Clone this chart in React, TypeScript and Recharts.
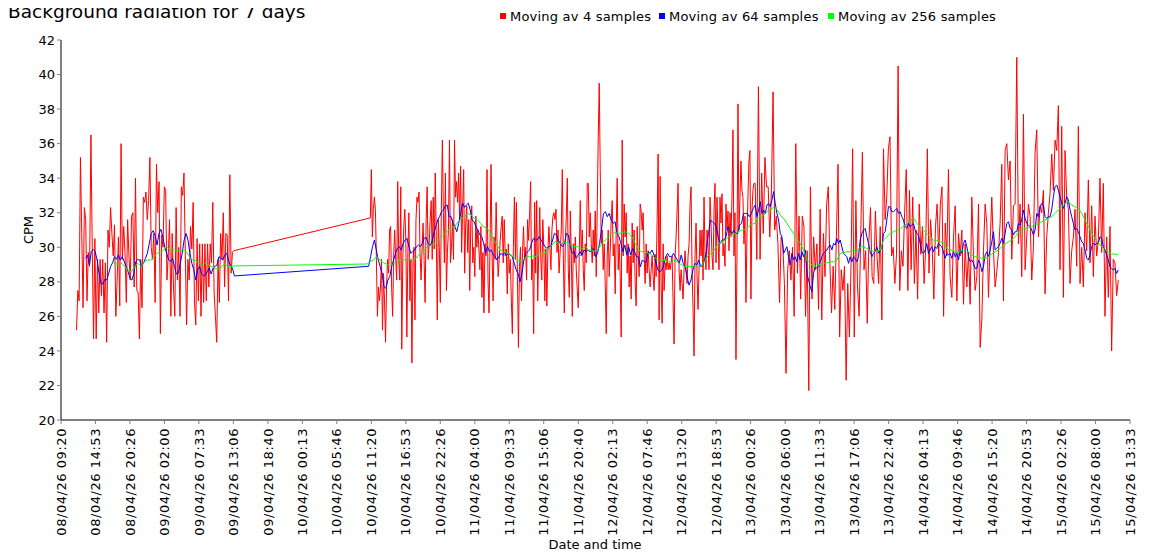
import React from 'react';
import { LineChart, Line, XAxis, YAxis } from 'recharts';

const TITLE = 'Background radiation for 7 days';
const SERIES_NAMES = ['Moving av 4 samples', 'Moving av 64 samples', 'Moving av 256 samples'];
const SERIES_COLORS = ['#ff0000', '#0000ff', '#00ff00'];
const X_LABEL = 'Date and time';
const Y_LABEL = 'CPM';
const Y_TICKS = [20, 22, 24, 26, 28, 30, 32, 34, 36, 38, 40, 42];
const X_TICK_LABELS = [
  '08/04/26 09:20', '08/04/26 14:53', '08/04/26 20:26', '09/04/26 02:00', '09/04/26 07:33',
  '09/04/26 13:06', '09/04/26 18:40', '10/04/26 00:13', '10/04/26 05:46', '10/04/26 11:20',
  '10/04/26 16:53', '10/04/26 22:26', '11/04/26 04:00', '11/04/26 09:33', '11/04/26 15:06',
  '11/04/26 20:40', '12/04/26 02:13', '12/04/26 07:46', '12/04/26 13:20', '12/04/26 18:53',
  '13/04/26 00:26', '13/04/26 06:00', '13/04/26 11:33', '13/04/26 17:06', '13/04/26 22:40',
  '14/04/26 04:13', '14/04/26 09:46', '14/04/26 15:20', '14/04/26 20:53', '15/04/26 02:26',
  '15/04/26 08:00', '15/04/26 13:33',
];

// Moving average over 4 samples (CPM), in time-ordered blocks
const RED_A = [25.2, 27.5, 26.9, 35.2, 30.8, 26.5, 32.3, 31.6, 26.9, 29.7, 28.9, 36.5, 30.0, 24.7, 30.5, 24.7, 29.3, 26.2, 29.3, 27.2, 29.3, 26.2, 29.1, 24.5, 31.0, 30.0, 32.3, 30.8, 29.5, 31.3, 26.0, 28.1, 30.6, 26.6, 36.0, 29.3, 31.2, 29.7, 26.8, 31.6, 29.5, 28.1, 31.8, 32.0, 27.7, 34.0, 27.5, 27.4, 24.7, 29.3, 26.5, 32.9, 32.6, 33.2, 31.6, 32.7, 35.2, 30.0, 29.3, 30.8, 26.8, 34.8, 32.0, 33.8, 25.0, 30.7, 30.0, 33.5, 33.3, 28.1, 29.5, 31.6, 26.0, 30.8, 27.7, 26.0, 32.3, 28.1, 30.0, 26.0, 33.5, 33.0, 34.3, 29.7, 25.5, 29.3, 28.1, 31.2, 29.9, 32.6, 26.9, 25.5, 30.5, 26.9, 30.2, 26.0, 30.2, 26.8, 30.2, 26.9, 30.2, 27.7, 30.2, 29.1, 32.6, 27.4, 26.0, 24.5, 29.3, 26.8, 30.8, 29.3, 32.0, 27.7, 30.8, 30.7, 26.9, 34.2, 28.5, 29.7, 29.8];
const RED_B1 = [31.7, 34.5, 30.6, 32.2, 32.9, 32.2, 29.3, 26.0, 27.7, 26.9, 27.7, 29.3, 25.2, 28.5, 26.9, 24.5, 27.7, 29.3, 28.5, 31.0, 31.2, 27.7, 26.0, 29.5, 31.0, 29.3, 28.1, 33.8, 29.3, 28.1, 33.5, 24.1, 29.3, 31.2, 32.2, 30.4, 24.8, 29.7, 32.0, 26.9, 29.3, 23.3, 29.1, 30.0, 25.8, 31.6, 32.9, 32.6, 33.2, 29.7, 28.1, 29.9, 31.4, 29.3, 26.8, 31.6, 33.5, 29.3, 30.2, 31.6, 32.7, 29.3, 32.9, 29.9, 34.3, 30.6, 25.8, 31.6, 30.0, 26.8, 32.2, 36.2, 32.0, 29.1, 34.3, 27.5, 29.7, 31.0, 36.2, 29.1, 30.0, 31.6, 29.3, 36.2, 32.9, 33.8, 32.6, 34.3, 31.6, 34.7, 29.7, 32.2, 34.5, 28.5, 31.4, 32.4, 29.7, 31.6, 27.5, 31.4, 32.4, 29.1, 30.0, 28.3, 31.8, 30.0, 31.0, 29.9, 28.7, 31.2, 27.1, 29.7, 26.2, 30.2, 29.5, 34.5, 28.1, 26.2, 30.2, 34.8, 29.7, 26.9, 30.6, 29.3, 32.6, 30.0, 28.3, 29.3, 30.4, 31.2, 31.8, 29.1, 31.6, 29.5, 29.9, 27.3, 30.2, 28.5, 29.3, 26.9, 25.0, 30.0, 32.9, 29.3, 32.6, 28.3, 24.2, 28.9, 30.0, 26.9, 29.7, 31.2, 29.3, 30.0, 28.1, 31.6, 30.4, 32.0, 33.8, 28.1, 29.3, 25.0, 32.6, 28.5, 32.7, 26.9, 29.7, 32.3, 29.3, 28.1, 31.6, 30.0, 26.9, 29.9, 26.6, 29.7, 31.2, 30.0, 28.7, 31.0, 31.8, 32.0, 31.6, 32.2, 29.7, 31.0, 28.5];
const RED_B2 = [31.0, 34.5, 29.5, 26.2, 30.2, 31.8, 34.0, 28.7, 27.1, 32.1, 29.6, 26.0, 30.2, 29.1, 30.6, 28.7, 27.5, 26.5, 29.6, 32.7, 29.5, 31.0, 28.7, 27.5, 30.2, 29.1, 33.7, 33.7, 30.6, 32.0, 30.2, 29.1, 31.0, 29.5, 32.1, 28.3, 32.3, 36.4, 39.5, 34.5, 30.2, 31.0, 28.7, 30.2, 27.9, 25.0, 29.5, 31.0, 28.3, 29.8, 31.6, 32.7, 29.5, 30.2, 27.3, 31.0, 34.0, 28.7, 30.2, 28.3, 24.8, 36.2, 29.5, 32.5, 30.6, 32.0, 28.5, 30.2, 27.7, 29.5, 27.0, 31.4, 29.1, 31.0, 27.9, 26.6, 31.2, 29.5, 28.3, 32.5, 32.1, 31.0, 32.0, 29.5, 27.9, 30.2, 28.5, 29.8, 28.7, 27.7, 28.7, 29.5, 28.3, 27.5, 29.6, 28.3, 31.6, 35.4, 25.8, 34.1, 27.9, 25.6, 30.2, 27.5, 29.1, 28.7, 29.5, 28.7, 29.1, 28.7, 29.1, 29.5, 26.8, 24.4, 29.5, 30.6, 32.1, 33.7, 28.7, 27.5, 28.7, 27.9, 27.0, 28.7, 29.8, 28.7, 27.9, 29.5, 30.2, 32.5, 33.5, 28.7, 26.4, 23.7, 29.5, 31.4, 28.3, 26.4, 28.7, 31.0, 29.5, 31.0, 28.1, 32.9, 29.5, 28.7, 31.0, 30.0, 28.7, 32.9, 31.4, 29.5, 28.7, 32.1, 33.7, 29.1, 32.9, 30.6, 28.7, 32.9, 31.4, 33.1, 29.5, 30.2, 28.9, 32.5, 31.0, 32.1, 29.8, 32.0, 30.6, 32.9, 36.8, 29.5, 32.0, 23.5, 29.5, 38.3, 31.0, 32.9, 35.0, 33.3, 32.9, 30.2, 31.8, 26.8, 30.6, 32.9, 35.0, 35.6, 27.0, 32.1, 33.3, 33.7];
const RED_B3 = [33.7, 29.3, 39.3, 29.3, 34.3, 30.8, 35.2, 33.5, 33.5, 30.6, 33.3, 39.0, 31.0, 31.8, 30.2, 26.8, 30.6, 30.2, 27.9, 22.7, 28.7, 29.8, 28.1, 30.0, 26.0, 36.0, 28.5, 31.8, 27.0, 31.8, 31.2, 26.0, 29.8, 21.7, 33.5, 27.0, 30.6, 28.7, 30.2, 26.4, 32.2, 25.8, 30.8, 28.3, 32.5, 33.5, 29.1, 26.2, 28.9, 26.4, 30.6, 34.8, 24.8, 28.7, 27.5, 28.9, 22.3, 27.9, 24.8, 28.9, 35.7, 24.8, 32.7, 27.7, 26.0, 30.8, 35.5, 28.7, 29.8, 25.6, 30.4, 32.3, 28.3, 27.9, 32.1, 29.5, 27.9, 31.2, 25.8, 35.7, 31.6, 32.9, 35.7, 36.4, 29.5, 30.0, 27.9, 29.6, 40.5, 27.5, 29.8, 28.9, 32.0, 34.5, 27.5, 33.3, 28.7, 32.9, 27.9, 31.0, 27.0, 32.5, 29.6, 31.2, 27.9, 30.0, 35.7, 28.5, 31.6, 30.0, 27.0, 31.2, 32.5, 29.5, 32.5, 33.5, 26.0, 31.4, 29.5, 34.5, 28.3];
const RED_B4 = [27.1, 30.6, 32.4, 26.9, 30.8, 29.5, 31.0, 26.7, 30.2, 27.7, 29.7, 26.7, 32.9, 29.5, 27.5, 28.3, 32.5, 24.2, 25.8, 29.8, 32.5, 31.4, 27.1, 30.2, 32.9, 29.8, 27.7, 28.6, 29.7, 31.4, 34.8, 26.9, 35.6, 36.0, 33.9, 35.0, 29.3, 32.4, 32.5, 41.0, 30.2, 32.5, 28.3, 37.7, 28.7, 30.6, 32.5, 31.8, 28.1, 30.0, 35.5, 36.8, 30.6, 32.4, 32.0, 33.3, 27.3, 30.6, 32.0, 33.1, 35.4, 33.3, 36.2, 35.6, 38.2, 28.7, 37.0, 27.1, 35.6, 32.9, 32.2, 27.9, 29.8, 30.6, 32.2, 28.9, 37.0, 27.9, 30.0, 27.7, 32.0, 29.8, 33.9, 29.1, 32.4, 28.3, 31.8, 29.5, 30.4, 34.0, 29.7, 33.7, 26.0, 30.6, 27.1, 31.2, 24.0, 29.3, 29.1, 27.2, 28.1];
const RED_SPANS: [string, string][] = [
  ['08/04/26 11:50', '09/04/26 13:10'],
  ['10/04/26 11:10', '11/04/26 17:34'],
  ['11/04/26 17:56', '13/04/26 00:58'],
  ['13/04/26 01:10', '14/04/26 08:34'],
  ['14/04/26 08:51', '15/04/26 11:40'],
];

// Moving average over 64 samples
const BLUE_A = [29.36, 29.55, 28.97, 29.75, 29.88, 29.75, 29.26, 28.5, 27.9, 27.87, 28.15, 28.1, 28.5, 28.9, 29.1, 29.46, 29.3, 29.55, 29.26, 29.46, 29.17, 28.9, 28.6, 28.2, 28.1, 28.5, 29.17, 29.3, 29.26, 28.9, 29.07, 29.36, 29.65, 30.23, 30.8, 30.96, 30.7, 30.13, 30.8, 31.04, 30.6, 30.0, 29.65, 29.26, 29.17, 29.36, 28.9, 28.45, 28.5, 29.07, 29.65, 30.42, 30.8, 30.42, 29.65, 29.07, 28.7, 28.1, 28.7, 28.9, 28.45, 28.34, 28.4, 28.6, 28.8, 28.45, 28.8, 28.9, 28.97, 29.46, 29.36, 29.26, 29.55, 29.65, 29.26, 28.9, 28.8, 28.34];
const BLUE_B1 = [28.9, 29.46, 30.04, 30.42, 29.84, 29.26, 28.88, 28.49, 27.72, 27.62, 28.1, 28.3, 28.88, 29.26, 29.65, 29.94, 30.04, 29.84, 30.23, 30.42, 30.52, 30.04, 29.65, 29.75, 29.84, 30.04, 30.13, 30.04, 30.23, 30.52, 30.58, 30.23, 30.07, 30.33, 30.81, 31.19, 31.58, 31.77, 32.06, 32.16, 32.39, 32.45, 31.77, 31.77, 31.39, 31.19, 30.9, 31.39, 31.97, 32.55, 32.31, 32.45, 32.55, 32.16, 31.58, 31.48, 31.19, 31.0, 30.71, 30.62, 30.23, 29.65, 30.04, 29.75, 29.84, 29.55, 29.46, 29.26, 29.46, 29.65, 29.55, 29.65, 29.55, 29.65, 29.55, 29.46, 29.07, 28.69, 28.49, 28.0, 28.49, 29.26, 29.65, 29.75, 29.84, 30.23, 30.52, 30.42, 30.42, 30.62, 30.42, 30.23, 30.04, 29.94, 30.04, 30.04, 30.42, 30.81, 30.71, 30.42, 30.23];
const BLUE_B2 = [30.03, 30.22, 30.8, 30.71, 30.03, 29.65, 29.74, 29.36, 29.55, 29.74, 29.55, 29.84, 29.74, 29.84, 29.74, 29.84, 29.93, 29.45, 29.65, 30.22, 30.99, 31.96, 32.06, 31.77, 31.96, 31.58, 31.38, 31.48, 30.8, 30.61, 30.22, 29.74, 30.13, 29.55, 30.03, 29.55, 29.93, 29.74, 29.45, 29.45, 28.87, 29.26, 29.16, 29.16, 29.74, 29.65, 29.84, 29.55, 29.16, 28.68, 28.58, 28.68, 28.97, 29.45, 29.65, 29.45, 29.45, 29.65, 29.45, 29.26, 29.07, 29.55, 29.07, 28.87, 28.29, 27.81, 28.1, 28.68, 29.07, 28.97, 29.26, 28.87, 28.97, 29.26, 29.84, 30.8, 31.58, 31.48, 31.38, 31.19, 30.61, 30.22, 30.42, 30.42, 30.61, 31.19, 30.99, 30.8, 30.99, 30.8, 30.8, 31.29, 31.38, 31.96, 31.96, 31.96, 31.77, 31.96, 32.25, 32.44];
const BLUE_B3 = [31.77, 32.15, 32.64, 31.96, 32.15, 31.96, 32.44, 32.54, 32.35, 32.73, 33.22, 32.54, 31.96, 31.58, 30.8, 30.61, 29.65, 29.84, 30.03, 29.45, 28.97, 29.65, 29.26, 29.45, 29.16, 29.65, 29.26, 29.74, 29.45, 29.84, 28.49, 28.1, 27.71, 27.43, 28.49, 28.87, 28.78, 28.87, 29.16, 29.45, 29.65, 29.74, 29.84, 30.03, 30.13, 29.84, 30.22, 30.13, 30.51, 30.22, 30.42, 30.03, 29.65, 29.55, 29.45, 29.07, 29.45, 29.16, 29.45, 29.36, 29.16, 29.45, 30.42, 30.8, 30.99, 31.09, 30.61, 30.22, 29.74, 29.45, 29.65, 29.74, 30.03, 29.65, 29.84, 29.93, 30.8, 30.9, 31.58, 32.35, 32.35, 32.06, 32.06, 32.15, 32.25, 31.96, 32.06, 31.77, 31.58, 31.19, 31.09, 31.38, 31.19, 31.29, 31.38, 30.99, 30.8, 30.71, 30.22, 29.74, 29.65, 29.84, 30.22, 29.65, 29.84, 30.03, 29.74, 30.03, 29.93, 30.22, 30.13, 30.03, 29.74, 29.36, 29.65, 29.55, 29.65];
const BLUE_B4 = [29.36, 29.74, 29.45, 29.65, 29.26, 29.84, 29.65, 30.23, 30.42, 30.03, 29.45, 29.16, 29.26, 29.07, 28.78, 28.78, 29.26, 29.07, 28.59, 28.87, 29.55, 29.74, 29.45, 29.84, 30.32, 30.9, 29.84, 29.94, 30.03, 30.23, 30.52, 30.23, 30.81, 31.38, 31.48, 31.09, 31.0, 30.71, 30.9, 30.9, 31.38, 31.29, 31.58, 32.16, 31.67, 31.38, 31.29, 31.19, 31.0, 30.71, 31.0, 31.96, 31.77, 32.35, 32.54, 32.45, 31.77, 31.67, 31.77, 31.77, 32.16, 32.93, 33.51, 33.6, 33.31, 32.93, 32.54, 32.25, 32.54, 32.93, 32.74, 32.16, 31.77, 31.38, 31.0, 31.09, 30.9, 30.61, 30.32, 30.23, 29.84, 29.36, 29.26, 29.55, 30.03, 30.23, 30.13, 30.23, 30.23, 30.61, 30.52, 30.03, 29.84, 29.55, 29.26, 28.87, 28.78, 28.68, 28.78, 28.49, 28.68];
const BLUE_SPANS: [string, string][] = [
  ['08/04/26 13:17', '09/04/26 13:16'],
  ['10/04/26 10:54', '11/04/26 17:46'],
  ['11/04/26 18:08', '13/04/26 01:10'],
  ['13/04/26 01:27', '14/04/26 08:34'],
  ['14/04/26 08:51', '15/04/26 11:40'],
];

// Moving average over 256 samples
const GREEN_A = [29.17, 29.03, 29.03, 29.07, 28.88, 28.65, 28.59, 28.88, 29.07, 28.88, 29.17, 29.26, 29.26, 29.46, 29.65, 29.75, 29.84, 30.04, 29.84, 29.84, 29.84, 29.75, 29.84, 29.75, 29.46, 29.26, 29.22, 29.07, 28.97, 29.11, 28.97, 28.88, 28.78, 28.72, 28.88, 29.03, 28.92, 28.88, 28.92];
const GREEN_B1 = [29.03, 29.17, 29.26, 29.46, 29.26, 29.11, 29.03, 28.92, 29.03, 29.17, 29.26, 29.3, 29.26, 29.3, 29.26, 29.36, 29.55, 29.69, 29.94, 30.07, 30.13, 30.23, 30.42, 30.62, 30.81, 31.0, 31.16, 31.19, 31.48, 31.62, 31.81, 31.97, 31.87, 31.68, 31.58, 31.39, 31.16, 31.1, 30.81, 30.42, 30.13, 29.84, 29.75, 29.69, 29.61, 29.46, 29.26, 29.17, 29.3, 29.42, 29.46, 29.5, 29.46, 29.65, 29.65, 29.69, 29.94, 30.13, 30.33, 30.23];
const GREEN_B2 = [30.22, 30.32, 30.22, 30.07, 30.03, 30.03, 29.93, 30.03, 29.84, 29.84, 29.74, 29.93, 30.22, 30.42, 30.61, 30.8, 30.84, 30.8, 30.84, 30.9, 30.8, 30.61, 30.22, 29.84, 29.74, 29.74, 29.65, 29.55, 29.36, 29.26, 29.26, 29.22, 29.16, 29.16, 29.26, 29.1, 28.97, 28.87, 28.91, 28.87, 28.97, 28.83, 28.97, 29.26, 29.55, 29.65, 29.93, 30.22, 30.32, 30.42, 30.61, 30.71, 30.8, 30.9, 30.99, 31.03, 31.19, 31.34, 31.38];
const GREEN_B3 = [31.67, 31.77, 31.86, 32.06, 32.19, 32.31, 32.19, 31.86, 31.67, 31.38, 31.09, 30.8, 30.51, 30.22, 29.84, 29.26, 29.07, 28.87, 28.91, 29.03, 29.07, 29.1, 29.16, 29.16, 29.26, 29.65, 29.68, 29.74, 29.74, 29.84, 29.74, 30.03, 30.03, 29.93, 29.84, 29.74, 29.8, 29.84, 30.42, 30.61, 30.8, 30.9, 30.99, 31.03, 31.23, 31.38, 31.48, 31.73, 31.38, 31.19, 30.99, 30.8, 30.61, 30.42, 30.38, 30.32, 30.26, 29.93, 29.84];
const GREEN_B4 = [29.84, 29.74, 29.69, 29.84, 29.84, 29.74, 29.55, 29.45, 29.42, 29.36, 29.36, 29.45, 29.61, 29.74, 29.84, 30.03, 30.19, 30.32, 30.42, 30.61, 30.84, 31.0, 31.09, 31.15, 31.19, 31.29, 31.38, 31.48, 31.58, 31.67, 31.77, 31.96, 32.16, 32.35, 32.54, 32.64, 32.45, 32.35, 32.25, 31.96, 31.58, 31.19, 30.81, 30.52, 30.26, 30.03, 29.88, 29.74, 29.61, 29.61, 29.55];
const GREEN_SPANS: [string, string][] = [
  ['08/04/26 17:35', '09/04/26 13:16'],
  ['10/04/26 10:38', '11/04/26 17:30'],
  ['11/04/26 18:03', '13/04/26 01:10'],
  ['13/04/26 01:27', '14/04/26 08:34'],
  ['14/04/26 08:51', '15/04/26 11:40'],
];

const FONT = '"DejaVu Sans", Verdana, sans-serif';

// minutes since the first axis tick (08/04/26 09:20)
function toMinutes(s: string): number {
  const [d, t] = s.split(' ');
  const [dd] = d.split('/').map(Number);
  const [hh, mi] = t.split(':').map(Number);
  return (dd - 8) * 1440 + hh * 60 + mi - (9 * 60 + 20);
}

type Pt = { t: number; v: number };
function buildSeries(blocks: number[][], spans: [string, string][]): Pt[] {
  const out: Pt[] = [];
  blocks.forEach((vals, bi) => {
    const a = toMinutes(spans[bi][0]);
    const z = toMinutes(spans[bi][1]);
    const n = vals.length;
    vals.forEach((v, i) => out.push({ t: a + ((z - a) * i) / (n - 1), v }));
  });
  return out;
}

const RED = buildSeries([RED_A, RED_B1, RED_B2, RED_B3, RED_B4], RED_SPANS);
const BLUE = buildSeries([BLUE_A, BLUE_B1, BLUE_B2, BLUE_B3, BLUE_B4], BLUE_SPANS);
const GREEN = buildSeries([GREEN_A, GREEN_B1, GREEN_B2, GREEN_B3, GREEN_B4], GREEN_SPANS);
const SERIES_DATA = [RED, BLUE, GREEN];

const X_TICKS = X_TICK_LABELS.map(toMinutes);
const LABEL_BY_VALUE = new Map<number, string>(X_TICKS.map((v, i) => [v, X_TICK_LABELS[i]]));

const XTick = (props: any) => {
  const { x, y, payload } = props;
  const label = LABEL_BY_VALUE.get(payload.value) ?? '';
  return (
    <text
      x={x}
      y={y}
      transform={`rotate(-90 ${x} ${y})`}
      textAnchor="end"
      dy="0.36em"
      fontSize={13}
      letterSpacing={0.55}
      fontFamily={FONT}
      fill="#000"
    >
      {label}
    </text>
  );
};

// The whole figure is laid out in page coordinates (1150 x 560)
const W = 1150;
const H = 560;
const LEGEND_X = [500, 659, 828];

export default function App() {
  return (
    <div style={{ position: 'relative', width: W, height: H, margin: '-8px 0 0 -8px', fontFamily: FONT }}>
      <LineChart width={W} height={H} margin={{ top: 40, right: 20, left: 8, bottom: 0 }}>
        <XAxis
          type="number"
          dataKey="t"
          domain={[X_TICKS[0], X_TICKS[X_TICKS.length - 1]]}
          ticks={X_TICKS}
          interval={0}
          allowDataOverflow
          height={140}
          tickSize={4}
          tickMargin={4}
          tick={XTick}
          tickLine={{ stroke: '#808080' }}
          axisLine={{ stroke: '#000' }}
        />
        <YAxis
          type="number"
          domain={[20, 42]}
          ticks={Y_TICKS}
          interval={0}
          allowDataOverflow
          width={53}
          tickSize={4}
          tick={{ fill: '#000', fontSize: 13, fontFamily: FONT }}
          tickLine={{ stroke: '#808080' }}
          axisLine={{ stroke: '#000' }}
        />
        {SERIES_DATA.map((d, i) => (
          <Line
            key={SERIES_NAMES[i]}
            data={d}
            dataKey="v"
            name={SERIES_NAMES[i]}
            type="linear"
            stroke={SERIES_COLORS[i]}
            strokeWidth={1}
            dot={false}
            activeDot={false}
            isAnimationActive={false}
          />
        ))}
      </LineChart>
      <svg
        width={W}
        height={H}
        style={{ position: 'absolute', left: 0, top: 0, pointerEvents: 'none' }}
      >
        <text x={8} y={17.5} fontSize={18.5} fontFamily={FONT} fill="#000">
          {TITLE}
        </text>
        {SERIES_NAMES.map((n, i) => (
          <g key={n}>
            <rect x={LEGEND_X[i]} y={13} width={6} height={6} fill={SERIES_COLORS[i]} />
            <text x={LEGEND_X[i] + 10} y={21} fontSize={13} letterSpacing={0.2} fontFamily={FONT} fill="#000">
              {n}
            </text>
          </g>
        ))}
        <text
          x={33.3}
          y={230}
          transform="rotate(-90 33.3 230)"
          textAnchor="middle"
          fontSize={13}
          fontFamily={FONT}
          fill="#000"
        >
          {Y_LABEL}
        </text>
        <text x={595} y={549} textAnchor="middle" fontSize={13} fontFamily={FONT} fill="#000">
          {X_LABEL}
        </text>
      </svg>
    </div>
  );
}
